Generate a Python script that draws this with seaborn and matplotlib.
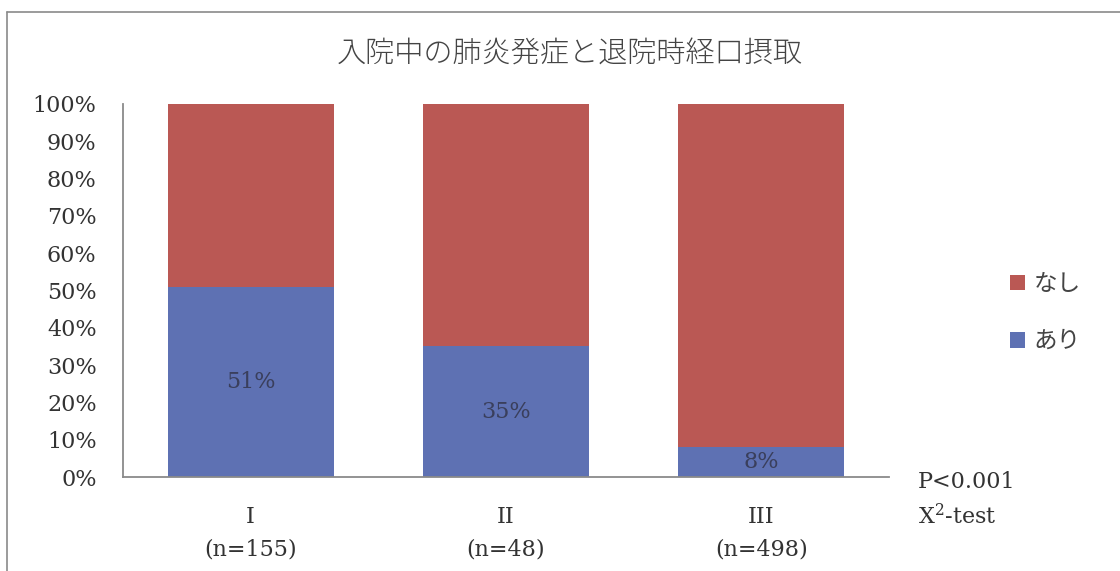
import matplotlib
matplotlib.use("Agg")
import matplotlib.pyplot as plt
import seaborn as sns
import pandas as pd
from matplotlib.patches import Patch
from matplotlib.lines import Line2D

# ---- data ----
categories = ["I", "II", "III"]
n_counts = [155, 48, 498]
ari_pct = [51, 35, 8]          # あり (blue, bottom)
nashi_pct = [49, 65, 92]       # なし (red, top)
yticks = [0, 10, 20, 30, 40, 50, 60, 70, 80, 90, 100]
title = "入院中の肺炎発症と退院時経口摂取"
legend_labels = ["なし", "あり"]
stat_lines = ["P<0.001", "X$^{2}$-test"]

red = "#BA5854"
blue = "#5E71B3"

sns.set_theme(style="white")
plt.rcParams["font.family"] = ["DejaVu Serif"]
plt.rcParams["mathtext.fontset"] = "dejavuserif"
jp = ["Noto Sans CJK JP", "DejaVu Sans"]

df = pd.DataFrame({
    "cat": categories,
    "total": [a + b for a, b in zip(ari_pct, nashi_pct)],
    "ari": ari_pct,
})

fig = plt.figure(figsize=(11.2, 5.71), dpi=100)
ax = fig.add_axes([123 / 1120, 1 - 477 / 571, (889 - 123) / 1120, (477 - 104) / 571])

sns.barplot(data=df, x="cat", y="total", color=red, width=0.65, saturation=1,
            linewidth=0, edgecolor="none", ax=ax)
sns.barplot(data=df, x="cat", y="ari", color=blue, width=0.65, saturation=1,
            linewidth=0, edgecolor="none", ax=ax)

ax.set_xlim(-0.5, 2.5)
ax.set_ylim(0, 100)
ax.set_yticks(yticks)
ax.set_yticklabels([f"{v}%" for v in yticks], fontsize=16, color="#333333")
ax.set_xticks(range(len(categories)))
ax.set_xticklabels([f"{c}\n(n={n})" for c, n in zip(categories, n_counts)],
                   fontsize=16, color="#333333", linespacing=1.6)
ax.tick_params(axis="y", length=0, pad=19)
ax.tick_params(axis="x", length=0, pad=21)
ax.set_xlabel("")
ax.set_ylabel("")
ax.grid(False)
for s in ["top", "right"]:
    ax.spines[s].set_visible(False)
for s in ["left", "bottom"]:
    ax.spines[s].set_color("#8a8a8a")
    ax.spines[s].set_linewidth(1.3)

# percentage labels in the blue segments
for i, v in enumerate(ari_pct):
    ax.text(i, v / 2, f"{v}%", ha="center", va="center", fontsize=16, color="#3a3f5c")

# title
fig.text(570 / 1120, 1 - 54 / 571, title, ha="center", va="center",
         fontsize=21, color="#444444", family=jp, fontweight="light")

# legend
handles = [Patch(facecolor=red, edgecolor="none"), Patch(facecolor=blue, edgecolor="none")]
leg = fig.legend(handles, legend_labels, loc="center left",
                 bbox_to_anchor=(1010 / 1120, 1 - 313 / 571), frameon=False,
                 prop={"family": jp, "size": 17}, handlelength=0.65, handleheight=0.65,
                 handletextpad=0.35, labelspacing=1.45, borderpad=0, borderaxespad=0)
for t in leg.get_texts():
    t.set_color("#444444")

# stats text
fig.text(918 / 1120, 1 - 482 / 571, stat_lines[0], ha="left", va="center", fontsize=16, color="#333333")
fig.text(918 / 1120, 1 - 517 / 571, stat_lines[1], ha="left", va="center", fontsize=16, color="#333333")

# outer frame (top and left edges)
fig.add_artist(Line2D([7 / 1120, 1.0], [1 - 12 / 571, 1 - 12 / 571], transform=fig.transFigure,
                      color="#8a8a8a", linewidth=1.2))
fig.add_artist(Line2D([7 / 1120, 7 / 1120], [0.0, 1 - 12 / 571], transform=fig.transFigure,
                      color="#8a8a8a", linewidth=1.2))

fig.savefig("out.png", dpi=100, facecolor="white")
